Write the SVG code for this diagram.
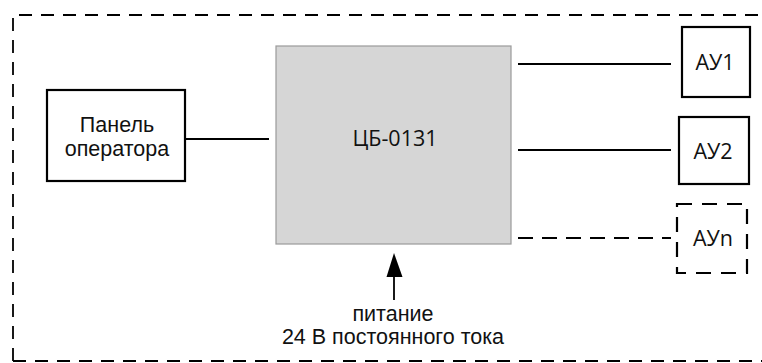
<svg xmlns="http://www.w3.org/2000/svg" width="762" height="363" viewBox="0 0 762 363">
<style>
.box{fill:#fff;stroke:#000;stroke-width:2.2}
.dbox{fill:#fff;stroke:#000;stroke-width:2.2;stroke-dasharray:15 10}
.ln{stroke:#000;stroke-width:1.8;fill:none}
.t1{font-family:"Liberation Sans",Arial,sans-serif;font-size:21.5px;fill:#111;text-anchor:middle}
.t2{font-family:"Open Sans","Noto Sans",sans-serif;font-size:21.5px;fill:#111;text-anchor:middle}
</style>
<rect width="762" height="363" fill="#fff"/>
<g id="frame">
<path d="M13,361 V15 H762" fill="none" stroke="#000" stroke-width="1.8" stroke-dasharray="13 9"/>
<path d="M13,361 H762" fill="none" stroke="#000" stroke-width="1.8" stroke-dasharray="13 9"/>
</g>
<g id="connectors">
<line class="ln" x1="185" y1="139" x2="269" y2="139"/>
<line class="ln" x1="518" y1="64" x2="671" y2="64"/>
<line class="ln" x1="518" y1="150" x2="671" y2="150"/>
<line class="ln" x1="518" y1="238" x2="671" y2="238" stroke-dasharray="15 9"/>
<line class="ln" x1="394" y1="300" x2="394" y2="277"/>
<path d="M394,253 L386.5,277 L402.5,277 z" fill="#000"/>
</g>
<g id="panel">
<rect class="box" x="47" y="90" width="138" height="91"/>
<text class="t1" x="117" y="132">Панель</text>
<text class="t1" x="117" y="155.5">оператора</text>
</g>
<g id="cb">
<rect x="276" y="46" width="235" height="198" fill="#d6d6d6" stroke="#9a9a9a" stroke-width="1.2"/>
<text class="t2" x="395" y="146" font-size="22.5">ЦБ-0131</text>
</g>
<g id="ay1">
<rect class="box" x="682" y="27" width="68" height="70"/>
<text class="t2" x="715" y="70">АУ1</text>
</g>
<g id="ay2">
<rect class="box" x="679" y="117" width="70" height="67"/>
<text class="t2" x="713" y="159">АУ2</text>
</g>
<g id="ayn">
<rect class="dbox" x="677" y="204" width="70" height="69"/>
<text class="t2" x="713" y="246">АУn</text>
</g>
<g id="power">
<text class="t1" x="393" y="321" font-size="22.5">питание</text>
<text class="t1" x="393" y="344" font-size="22.5">24 В постоянного тока</text>
</g>
</svg>
